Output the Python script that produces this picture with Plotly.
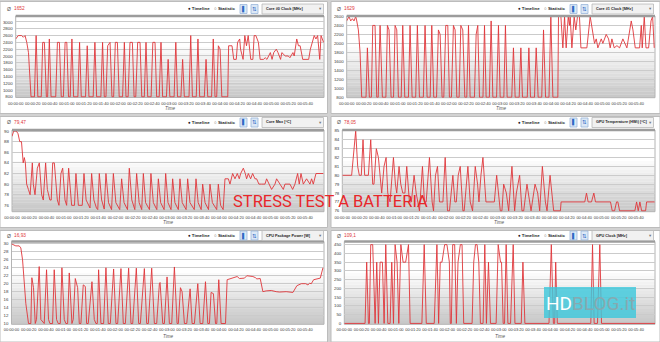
import plotly.graph_objects as go

# ---------------- DATA (seconds, value) ----------------
CORE0_CLOCK = [
    (0, 2500), (3, 2600), (7, 2600), (9, 2550), (11, 2600), (13, 2400), (15, 2100), (18, 800),
    (22, 800), (24, 2600), (26, 800), (30, 800), (31.7, 2400), (33.7, 2400), (36, 800),
    (37.5, 800), (39.5, 2500), (41.5, 800), (47, 800), (49, 2400), (51.3, 2400), (53.5, 800),
    (56, 800), (58, 2400), (60, 2400), (62, 800), (64, 800), (66, 2500), (68, 800),
    (73, 800), (75, 2400), (77, 800), (82, 800), (84, 2300), (86, 800),
    (91, 800), (93, 2400), (95, 800), (100, 800), (102, 2400), (104, 800),
    (106, 800), (108, 2300), (110.8, 2400), (113, 800), (115, 800), (117, 2400), (119.4, 2400), (121.5, 800),
    (125.5, 800), (127.6, 2400), (129.5, 800), (132, 800), (134.2, 2400), (137, 2400), (139, 800),
    (141, 800), (143.2, 2400), (146, 2400), (148, 800), (151, 800), (153, 2400), (155, 800),
    (159, 800), (161, 2400), (163.6, 2400), (165.5, 800), (168.5, 800), (170.6, 2400), (172.5, 800),
    (177, 800), (179, 1900), (181, 800), (186, 800), (188, 2400), (190, 800),
    (194, 800), (196, 1900), (198, 800), (203.5, 800), (205.5, 2600), (207.5, 800),
    (212, 800), (214, 2500), (216, 800), (221.5, 800), (223.5, 1900), (225.5, 800),
    (230, 800), (232, 2500), (234, 800), (236, 800), (238, 2300), (240, 2200), (242, 800),
    (249, 800), (250, 2300), (254, 2300), (256, 1900), (259, 1900), (260.5, 2400), (263, 2500),
    (264, 2200), (267, 1900), (269, 2600), (271, 2300), (273, 2600), (276, 1900), (278.5, 1900),
    (280, 2600), (282, 2600), (285, 2400), (287, 1900), (291, 1900), (293, 1950), (295, 1900),
    (297, 2000), (299, 2100), (301, 1900), (303, 2100), (306, 2200), (308, 2100), (311, 1900),
    (312.5, 2100), (316.5, 2000), (320, 2000), (322, 1950), (325.5, 2100), (327, 2000),
    (330, 2500), (332, 2300), (334, 2300), (337, 1900), (344, 1900), (346, 2200), (349, 2500),
    (350.5, 2600), (352.5, 2500), (354.5, 2600), (357, 1900), (358.5, 2600), (361.5, 2400),
]

CORE1_CLOCK = [
    (0, 2500), (2.7, 2600), (4.7, 2500), (6.7, 2550), (8.6, 2500), (10.6, 2600), (11.8, 2500),
    (13.7, 2300), (15.7, 1800), (17.6, 800), (22.7, 800), (24.3, 1900), (26.6, 800),
    (29, 800), (30.6, 2400), (33.3, 2400), (35.3, 800), (37, 800), (39.2, 2400), (41.9, 800),
    (46, 800), (47.8, 2400), (49.7, 2300), (52.1, 800), (55, 800), (56.8, 2400), (58.8, 2300), (60.7, 800),
    (64, 800), (65.8, 2400), (68.2, 800), (72.5, 800), (74.4, 2400), (76.8, 800),
    (81, 800), (83, 2400), (85.4, 800), (90, 800), (92, 2400), (94.4, 800),
    (98, 800), (99.9, 2400), (102.2, 800), (105.5, 800), (107.7, 2300), (109.7, 2200), (112, 800),
    (114, 800), (116.3, 2400), (118.7, 2400), (120.6, 800), (123, 800), (125.3, 2400), (127.3, 2300), (129.3, 800),
    (132, 800), (134, 2400), (136.3, 2300), (138.7, 800), (141, 800), (143, 2400), (144.9, 800),
    (150, 800), (152, 2200), (153.9, 2400), (155.9, 800), (160, 800), (161.8, 2400), (163.7, 800),
    (167.5, 800), (169.6, 2500), (171.6, 800), (176, 800), (178.2, 2400), (180.2, 800),
    (184.5, 800), (186.4, 2400), (188.4, 800), (193.8, 800), (195.8, 1900), (197.8, 800),
    (202.5, 800), (204.5, 1900), (206.4, 800), (212, 800), (213.9, 1900), (215.8, 800),
    (220.5, 800), (222.5, 1900), (224.8, 800), (229, 800), (231.1, 2300), (233.5, 800),
    (237.5, 800), (239.7, 2600), (242.1, 800), (247.9, 800), (248.7, 2600), (251.5, 2600),
    (253.8, 1900), (255.8, 2600), (257.7, 1900), (260.1, 2600), (261.6, 2400), (262.4, 2600),
    (264.4, 1900), (267.1, 2600), (269, 2300), (271, 2600), (273.3, 2600), (275, 1900), (282, 1900),
    (285.9, 2600), (289, 2200), (291, 2000), (293, 2100), (294.9, 1900), (296.9, 2000), (298.9, 2100),
    (300.8, 2000), (304.7, 2200), (307.5, 2100), (309.4, 1900), (311.4, 2100), (314.1, 1900),
    (317.3, 1950), (320.4, 1900), (324.3, 2100), (329, 1900), (334.1, 2500), (336.1, 2300),
    (338.8, 1900), (343.9, 1900), (345.9, 2400), (347, 1900), (349.4, 2600), (351.4, 1900),
    (354.5, 1900), (357.3, 2500), (359.2, 2600), (361.1, 1900),
]

CORE_MAX_TEMP = [
    (0, 89), (2, 90), (5, 90), (7, 89.5), (9, 88), (11, 88), (13, 84), (14.3, 85), (15.5, 84),
    (17, 80), (19, 79), (21, 78), (23.6, 84), (24.7, 80), (26.7, 78), (29.4, 83), (31.7, 84),
    (34.4, 78), (36.3, 77), (39, 84), (41, 79), (44, 77), (45.5, 77), (47.2, 84), (49.1, 84),
    (52.6, 77), (54.5, 76), (56.8, 82), (58.8, 83), (61.5, 77), (63.4, 76), (65.7, 83), (69.2, 76),
    (72.5, 76), (74.2, 82), (77, 76), (81.5, 76), (83.5, 82), (86, 77), (89, 76), (90.5, 75.5),
    (92.4, 82), (95, 77), (98, 75.5), (99.5, 75.2), (101.3, 82), (104, 77), (107, 75.3), (109, 82),
    (112, 76.5), (115.5, 75.2), (117.6, 82), (120.5, 76.5), (125, 75.2), (127.2, 81), (130, 76.5),
    (134, 75.2), (136.1, 83), (139, 77), (142.5, 75.2), (144.6, 82), (147.5, 76.5), (150.5, 75.2),
    (152.4, 82), (155, 76.5), (159.5, 75.2), (161.2, 82), (164, 76.5), (168, 75.2), (169.8, 81),
    (172.5, 76.5), (176.5, 75.2), (178.3, 82), (181, 76.5), (184.5, 75.2), (186.4, 81), (189, 76.5),
    (193, 75.2), (194.9, 81), (197.5, 76.5), (202, 75.2), (203.8, 81), (206.5, 76.5), (211.5, 75.2),
    (213.5, 81), (216, 76.5), (219.5, 75.2), (221.2, 80), (224, 76.5), (228, 75.2), (229.7, 80),
    (232.5, 76.5), (237.5, 75.2), (239.4, 80), (242, 76), (245, 75.2), (247.1, 81), (251, 81),
    (252.9, 80), (256, 82), (258.7, 81), (261.4, 82), (263.7, 81), (265.3, 82), (268.4, 83),
    (270.7, 82), (272.2, 81), (274.2, 82), (276.9, 81), (279.2, 82), (281.9, 81), (283.8, 81),
    (286.5, 80), (289.6, 80), (293.5, 80), (295.4, 81), (298, 80), (301.2, 79), (305.1, 80),
    (307, 81), (310.9, 80), (314.8, 79), (316.7, 80), (322.5, 80), (325.6, 79), (328.3, 80),
    (331.4, 82), (333.3, 80), (335.3, 82), (338, 80), (341.8, 81), (345.7, 80), (347.6, 81),
    (349.6, 80), (352.7, 82), (361.2, 82),
]

GPU_TEMP = [
    (0, 80), (10.8, 80), (15.5, 85), (17.8, 81), (19.7, 80), (22, 80), (24, 84), (25.9, 80),
    (30.2, 80), (32.9, 84), (35.2, 79), (36.7, 79), (39.4, 83), (41.8, 82), (45.6, 78), (48.3, 81),
    (50.7, 82), (52.6, 78), (55.3, 77), (59.2, 82), (61.5, 79), (63, 78), (65.7, 81), (67.7, 79),
    (70, 78), (72.5, 78), (74.6, 81), (77.7, 77), (80, 77), (83.1, 80), (85.5, 78), (89.3, 76),
    (92.8, 81), (95.1, 77), (97.1, 77), (100.9, 82), (104, 77), (105.6, 76), (107.9, 80), (110.2, 81),
    (112.5, 77), (116.5, 77), (119.1, 82), (121.8, 76), (124.1, 76), (128, 80), (130.3, 77), (132, 77),
    (134.2, 80), (136.5, 81), (139.6, 76), (141.1, 76), (145.4, 81), (148.1, 77), (150.8, 76),
    (153.9, 81), (156.6, 79), (158.2, 77), (160.5, 80), (162.8, 82), (166.3, 77), (171.3, 77),
    (176, 77), (178.7, 80), (182.9, 76), (184.8, 76), (186.8, 79), (189.9, 78), (191, 77),
    (192.6, 76), (196.4, 81), (199.5, 76), (201.5, 78), (205.3, 80), (208, 76), (210, 76),
    (213.8, 79), (216.9, 77), (218.5, 76), (223.1, 79), (226.2, 78), (228.5, 76), (231.6, 81),
    (235.1, 77), (237, 76), (240.5, 80), (244.7, 76), (252.5, 76), (253.3, 77), (280.7, 77),
    (282.7, 78), (284.6, 77), (288.5, 77), (291.2, 78), (293.1, 77), (310.5, 77), (312.5, 76),
    (315.2, 76), (317.5, 77), (319, 77), (321, 76), (338.7, 76), (340.7, 77), (342.6, 76),
    (344.5, 77), (346.5, 76), (351.1, 76), (352.3, 77), (361.6, 77),
]

CPU_PACKAGE_POWER = [
    (0, 30), (5, 29.5), (8.9, 29.5), (10.8, 29), (12.8, 26), (14.7, 20), (16.6, 15), (19.7, 10),
    (22.4, 10), (23.6, 21.5), (25.5, 19), (27.5, 10), (29, 11), (32.1, 24.3), (34, 11), (37.9, 10),
    (40.6, 23.5), (42.9, 11), (44.5, 10), (47.6, 10), (49.5, 23.5), (52.2, 11), (54.1, 10),
    (56.5, 10), (58.4, 24), (61.1, 11), (63, 10), (65, 10), (66.9, 22.7), (70, 10), (71.5, 11),
    (73.9, 21.3), (76.6, 19), (78.5, 10), (80.4, 10), (83.1, 19.7), (85.5, 19.3), (87, 10),
    (88.9, 10), (93.2, 20.5), (95.9, 11), (97.8, 10), (99.4, 10), (100.9, 23.5), (103.6, 10),
    (106.7, 10), (109.4, 24), (112.1, 10), (114.5, 10), (118.3, 23.7), (121, 10), (123, 10),
    (126.8, 23.8), (129.5, 10), (131.9, 10), (135.7, 23.9), (138.4, 10), (140.4, 10), (144.6, 23.9),
    (147.3, 10), (149.3, 10), (153.9, 23.8), (156.6, 10), (158.5, 10), (162.4, 23.9), (165.5, 10),
    (168.2, 10), (171.3, 20), (172.1, 20.3), (175.2, 10), (177.1, 10), (180.2, 21.7), (182.9, 10),
    (185.6, 10), (188.7, 24.2), (191.8, 10), (193.3, 10), (195.7, 19), (197.6, 18), (200.3, 10),
    (203, 10), (206.9, 18.7), (209.2, 10), (211.9, 10), (215.8, 20), (218.5, 10), (221.6, 10),
    (224.7, 20.5), (227.4, 10), (229.3, 10), (231.2, 17.8), (233.9, 17.5), (236.3, 10), (237.8, 10),
    (240.1, 21), (242.8, 10), (247.9, 10), (249.8, 21), (252.5, 21.2), (256.4, 21.3), (261.4, 21.8),
    (264.1, 21.3), (269.9, 21.4), (272.6, 22), (279.6, 21.8), (282.7, 21.5), (284.2, 21.2),
    (288.1, 21.3), (291.2, 18), (295, 18.2), (300.9, 18.3), (306.6, 18), (310.5, 17.9), (318.2, 18),
    (326, 17.8), (330.6, 19.5), (335.7, 20), (340.7, 20), (343.4, 19.7), (345.3, 20.1), (347.3, 20),
    (350, 21), (353, 21.1), (357.7, 21.4), (360.8, 24),
]

GPU_CLOCK = [
    (0, 0), (24.2, 0), (26.1, 350), (28.1, 0), (29.2, 0), (30.8, 450), (33.1, 450), (35.9, 0),
    (37.8, 350), (39.8, 0), (41.7, 350), (44.4, 350), (46.4, 0), (48.3, 450), (50.7, 0), (53.4, 0),
    (55.3, 350), (57.3, 0), (59.2, 450), (61.5, 350), (63.5, 0), (65.9, 450), (68.5, 350), (71.5, 350),
    (74.8, 450), (76.7, 0), (90.4, 0), (93.1, 450), (95.5, 0), (104.8, 0), (107.9, 450), (109.9, 0),
    (111.8, 350), (113.8, 350), (116.9, 450), (119.6, 450), (122.4, 350), (123.5, 0), (124.7, 0),
    (126.3, 450), (128.6, 450), (130.6, 0), (132.5, 350), (135.2, 450), (137.2, 450), (139.1, 0),
    (148.9, 0), (150.8, 350), (152.8, 450), (154.7, 450), (156.7, 350), (158.6, 0), (161.7, 0),
    (163.7, 450), (165.6, 0), (168, 350), (170.3, 0), (176.9, 0), (179.3, 450), (182, 350),
    (183.2, 350), (185.1, 0), (186.7, 0), (188.6, 450), (190.6, 0), (193.7, 0), (196.8, 450),
    (198.8, 0), (206.2, 0), (208.1, 350), (210.4, 0), (238.5, 0), (241.2, 450), (243.6, 0),
    (245.1, 0), (246.3, 350), (248.2, 0), (287.2, 0), (289.2, 450), (291.1, 0), (295, 0),
    (297.7, 450), (299.7, 0), (362, 0),
]

X_TICK_SECONDS = [0, 20, 40, 60, 80, 100, 120, 140, 160, 180, 200, 220, 240, 260, 280, 300, 320, 340]
X_TICK_LABELS = ["00:00:00", "00:00:20", "00:00:40", "00:01:00", "00:01:20", "00:01:40",
                 "00:02:00", "00:02:20", "00:02:40", "00:03:00", "00:03:20", "00:03:40",
                 "00:04:00", "00:04:20", "00:04:40", "00:05:00", "00:05:20", "00:05:40"]

CORE0_TICKS = [800, 1000, 1200, 1400, 1600, 1800, 2000, 2200, 2400, 2600, 2800, 3000]
CORE1_TICKS = [800, 1000, 1200, 1400, 1600, 1800, 2000, 2200, 2400, 2600]
CORE_MAX_TICKS = [76, 78, 80, 82, 84, 86, 88, 90]
GPU_TEMP_TICKS = [76, 77, 78, 79, 80, 81, 82, 83, 84, 85]
POWER_TICKS = [10, 12, 14, 16, 18, 20, 22, 24, 26, 28, 30]
GPU_CLOCK_TICKS = [0, 50, 100, 150, 200, 250, 300, 350, 400, 450]

SENSOR_NAMES = ["Core #0 Clock [MHz]", "Core #1 Clock [MHz]", "Core Max [°C]",
                "GPU Temperature (HWi) [°C]", "CPU Package Power [W]", "GPU Clock [MHz]"]
AVERAGES = ["1652", "1629", "79,47", "78,05", "16,93", "109,1"]

# ---------------- LAYOUT ----------------
W, H = 660, 342
RED = "#e0363a"
FONT = "Liberation Sans"
XTICK_FONT = dict(size=4.0, color="#3a3a3a", family=FONT)
YTICK_FONT = dict(size=4.4, color="#3a3a3a", family=FONT)


def fx(x):
    return x / W


def fy(y):
    return 1 - y / H


series = [CORE0_CLOCK, CORE1_CLOCK, CORE_MAX_TEMP, GPU_TEMP, CPU_PACKAGE_POWER, GPU_CLOCK]
ticks = [CORE0_TICKS, CORE1_TICKS, CORE_MAX_TICKS, GPU_TEMP_TICKS, POWER_TICKS, GPU_CLOCK_TICKS]
yranges = [[780, 3175], [790, 2610], [74.8, 90.2], [75.9, 85.1], [9.8, 30.6], [-5, 468]]
# plot areas (px): x0, x1, ytop, ybottom
areas = [(15.7, 324, 16, 97.5), (346.7, 655, 16, 97.7),
         (12, 324, 130, 211.7), (342.3, 655, 130, 211.7),
         (11.5, 324, 241.5, 324.3), (344.3, 655, 241.5, 324.3)]
# panel frames (px): x0, x1, y0, y1
frames = [(0, 327.5, 1.5, 113.5), (331, 660, 1.5, 113.5),
          (0, 327.5, 116.5, 227.5), (331, 660, 116.5, 227.5),
          (0, 327.5, 230.5, 342), (331, 660, 230.5, 342)]
header_y = [9, 9, 122.5, 122.5, 235.5, 235.5]
time_y = [108, 108, 222.3, 222.3, 336.5, 336.5]

fig = go.Figure()
shapes = []
annotations = []
layout = dict(width=W, height=H, margin=dict(l=0, r=0, t=0, b=0, autoexpand=False),
              paper_bgcolor="#d2d2d2", plot_bgcolor="rgba(0,0,0,0)", showlegend=False,
              template="none")

for i, data in enumerate(series):
    sfx = "" if i == 0 else str(i + 1)
    xname, yname = "x" + sfx, "y" + sfx
    xs = [p[0] for p in data]
    ys = [p[1] for p in data]
    fig.add_trace(go.Scatter(x=xs, y=ys, mode="lines", xaxis=xname, yaxis=yname,
                             line=dict(color=RED, width=0.9), hoverinfo="skip"))
    x0, x1, yt, yb = areas[i]
    layout["xaxis" + sfx] = dict(domain=[fx(x0), fx(x1)], range=[0, 362], anchor=yname,
                                 tickvals=X_TICK_SECONDS, ticktext=X_TICK_LABELS,
                                 tickfont=XTICK_FONT, tickangle=0, automargin=False,
                                 showgrid=False, zeroline=False, showline=False, ticks="",
                                 ticklabelstandoff=2, fixedrange=True)
    layout["yaxis" + sfx] = dict(domain=[fy(yb), fy(yt)], range=yranges[i], anchor=xname,
                                 tickvals=ticks[i], tickfont=YTICK_FONT, automargin=False,
                                 showgrid=True, gridcolor="#cbcbcb", gridwidth=1,
                                 zeroline=False, showline=False, ticks="",
                                 ticklabelstandoff=2, fixedrange=True)
    xd, yd = xname + " domain", yname + " domain"
    # gradient background in plot area
    nb = 18
    for k in range(nb):
        shade = int(200 + (255 - 200) * (k / (nb - 1)))
        shapes.append(dict(type="rect", xref=xd, yref=yd, x0=0, x1=1,
                           y0=k / nb * 0.66, y1=(k + 1) / nb * 0.66 + 0.002,
                           fillcolor=f"rgb({shade},{shade},{shade})", line=dict(width=0),
                           layer="below"))
    shapes.append(dict(type="rect", xref=xd, yref=yd, x0=0, x1=1, y0=0, y1=1,
                       line=dict(color="#b4b4b4", width=1), layer="below"))
    shapes.append(dict(type="line", xref=xd, yref=yd, x0=0, x1=1, y0=1, y1=1,
                       line=dict(color="#9c9c9c", width=2.5), layer="above"))

    # panel frame
    fx0, fx1, fy0, fy1 = frames[i]
    shapes.insert(0, dict(type="rect", xref="paper", yref="paper", x0=fx(fx0), x1=fx(fx1),
                          y0=fy(fy1), y1=fy(fy0), fillcolor="#ffffff",
                          line=dict(color="#bcbcbc", width=1), layer="below"))

    # header
    px0 = 0 if i % 2 == 0 else 330
    hy = header_y[i]
    annotations.append(dict(x=fx(px0 + 5), y=fy(hy), xref="paper", yref="paper", text="Ø",
                            showarrow=False, xanchor="left", yanchor="middle",
                            font=dict(size=5, color="#555", family=FONT)))
    annotations.append(dict(x=fx(px0 + 12), y=fy(hy), xref="paper", yref="paper",
                            text=AVERAGES[i], showarrow=False, xanchor="left", yanchor="middle",
                            font=dict(size=4.8, color=RED, family=FONT)))
    annotations.append(dict(x=fx(px0 + 186), y=fy(hy), xref="paper", yref="paper",
                            text="<b>● Timeline</b>", showarrow=False, xanchor="left",
                            yanchor="middle", font=dict(size=4.4, color="#222", family=FONT)))
    annotations.append(dict(x=fx(px0 + 212), y=fy(hy), xref="paper", yref="paper",
                            text="○ <b>Statistic</b>", showarrow=False, xanchor="left",
                            yanchor="middle", font=dict(size=4.4, color="#222", family=FONT)))
    for bx, glyph in ((240, "▌"), (251, "⇅")):
        shapes.append(dict(type="rect", xref="paper", yref="paper", x0=fx(px0 + bx),
                           x1=fx(px0 + bx + 7), y0=fy(hy + 4.5), y1=fy(hy - 4.5),
                           fillcolor="#dce8f6", line=dict(color="#9ab6da", width=0.8),
                           layer="above"))
        annotations.append(dict(x=fx(px0 + bx + 3.5), y=fy(hy), xref="paper", yref="paper",
                                text=glyph, showarrow=False, xanchor="center", yanchor="middle",
                                font=dict(size=5.5, color="#2f6bc4", family="DejaVu Sans")))
    shapes.append(dict(type="rect", xref="paper", yref="paper", x0=fx(px0 + 262),
                       x1=fx(px0 + 323.5), y0=fy(hy + 5), y1=fy(hy - 5),
                       fillcolor="#f1f1f1", line=dict(color="#b8b8b8", width=0.8), layer="above"))
    annotations.append(dict(x=fx(px0 + 264), y=fy(hy), xref="paper", yref="paper",
                            text=f"<b>{SENSOR_NAMES[i]}</b>", showarrow=False, xanchor="left",
                            yanchor="middle", font=dict(size=3.8, color="#222", family=FONT)))
    annotations.append(dict(x=fx(px0 + 320.5), y=fy(hy), xref="paper", yref="paper",
                            text="▾", showarrow=False, xanchor="center", yanchor="middle",
                            font=dict(size=4.5, color="#777", family="DejaVu Sans")))
    annotations.append(dict(x=fx((x0 + x1) / 2), y=fy(time_y[i]), xref="paper", yref="paper",
                            text="<i>Time</i>", showarrow=False, xanchor="center",
                            yanchor="middle", font=dict(size=4.5, color="#555", family=FONT)))

# overlay caption
annotations.append(dict(x=fx(330), y=fy(201.5), xref="paper", yref="paper",
                        text="STRESS TEST A BATTERIA", showarrow=False, xanchor="center",
                        yanchor="middle", font=dict(size=16.5, color="#e8262a", family="Roboto")))
# watermark
shapes.append(dict(type="rect", xref="paper", yref="paper", x0=fx(544), x1=fx(636),
                   y0=fy(318), y1=fy(287), fillcolor="#3ec8dc", opacity=0.82,
                   line=dict(width=0), layer="above"))
annotations.append(dict(x=fx(590), y=fy(303), xref="paper", yref="paper",
                        text="<span style='color:#ffffff'>HD</span><span style='color:#86a9b0'>BLOG.it</span>",
                        showarrow=False, xanchor="center", yanchor="middle",
                        font=dict(size=19, family="Roboto")))

layout["shapes"] = shapes
layout["annotations"] = annotations
fig.update_layout(**layout)
fig.write_html("out.html")
